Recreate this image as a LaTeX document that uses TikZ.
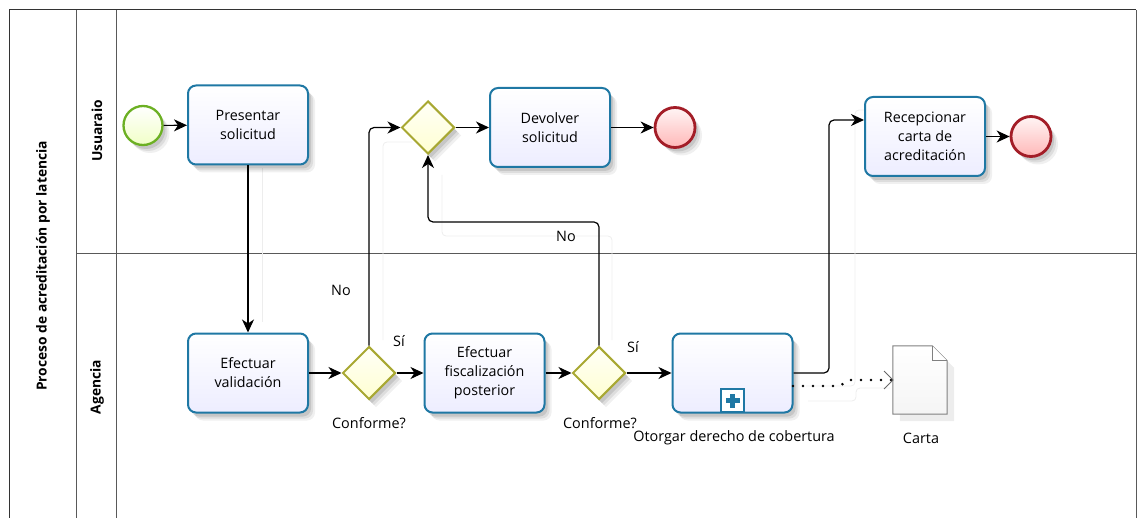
\documentclass[tikz,border=0pt]{standalone}
\usepackage{fontspec}
\setmainfont{Open Sans}
\usetikzlibrary{positioning,arrows.meta,shadows,calc,shapes.geometric}
\definecolor{taskblue}{HTML}{1F78A4}
\definecolor{gateolive}{HTML}{A8A832}
\definecolor{startgreen}{HTML}{6CB023}
\definecolor{endred}{HTML}{A31D27}
\tikzset{
  softshadow/.style={drop shadow={shadow xshift=7pt,shadow yshift=-8pt,opacity=0.06,fill=black},
    drop shadow={shadow xshift=5pt,shadow yshift=-6pt,opacity=0.08,fill=black},
    drop shadow={shadow xshift=3pt,shadow yshift=-4pt,opacity=0.1,fill=black}},
  taskbox/.style={draw=taskblue,line width=2pt,rounded corners=8pt,minimum width=120pt,minimum height=79pt,
    align=center,font=\fontsize{14.3}{19}\selectfont,inner sep=0pt,softshadow,top color=white,bottom color=blue!7},
  gatebox/.style={draw=gateolive,line width=2pt,diamond,minimum width=53pt,minimum height=53pt,inner sep=0pt,
    softshadow,top color=yellow!3,bottom color=yellow!18},
  startevt/.style={draw=startgreen,line width=2.3pt,circle,minimum size=39pt,inner sep=0pt,softshadow,top color=white,bottom color=green!25!yellow!22},
  endevt/.style={draw=endred,line width=2.8pt,circle,minimum size=40pt,inner sep=0pt,softshadow,top color=red!4,bottom color=red!28},
  flow/.style={line width=1.2pt,rounded corners=5pt,-{Stealth[length=13pt,width=12pt,inset=4pt]}},
  ghost/.style={line width=0.8pt,black!7,rounded corners=4pt},
  lane/.style={draw=black!65,line width=0.9pt},
  txt/.style={font=\fontsize{14.4}{17}\selectfont,inner sep=0pt},
  lanetxt/.style={font=\bfseries\fontsize{13.8}{16}\selectfont,rotate=90,inner sep=0pt}
}
\begin{document}
\begin{tikzpicture}[x=1pt,y=-1pt]
\useasboundingbox (0,0) rectangle (1139,518);
% pool and lanes
\draw[draw=black!80,line width=1pt] (9.5,518) -- (9.5,10) -- (1136,10);
\draw[lane] (1136,10) -- (1136,518);
\draw[lane] (76,10) -- (76,518);
\draw[lane] (116,10) -- (116,518);
\draw[lane] (76,253) -- (1136,253);
\node[lanetxt] (pool) at (43,266) {Proceso de acreditación por latencia};
\node[lanetxt] (usuario) at (97,131) {Usuaraio};
\node[lanetxt] (agencia) at (97,387) {Agencia};
% faint traces
\draw[ghost] (262,168) -- (262,322);
\draw[ghost] (383,340) |- (412,142);
\draw[ghost] (442,175) |- (612,236) -- (612,340);
\draw[ghost] (806,386) -- (855,386) |- (878,110);
\draw[ghost] (808,401) -- (856,401) -- (856,388) -- (890,388);
% events and tasks
\node[startevt] (start) at (143,125.5) {};
\node[taskbox] (presentar) at (248,125) {Presentar\\solicitud};
\node[gatebox] (gwtop) at (428,127.5) {};
\node[taskbox] (devolver) at (550,127.5) {Devolver\\solicitud};
\node[endevt] (endone) at (675,127.5) {};
\node[taskbox] (recepcionar) at (925,136.5) {Recepcionar\\carta de\\acreditación};
\node[endevt] (endtwo) at (1031,136.5) {};
\node[taskbox] (validacion) at (248,373) {Efectuar\\validación};
\node[gatebox] (gwone) at (369,373) {};
\node[taskbox] (fiscalizacion) at (484.5,373) {Efectuar\\fiscalización\\posterior};
\node[gatebox] (gwtwo) at (599,373) {};
\node[taskbox] (otorgar) at (732.5,373) {};
% subprocess marker
\node[draw=taskblue,fill=white,line width=1.8pt,minimum size=23pt,inner sep=0pt,anchor=south] (marker) at (732.5,413) {};
\node[fill=taskblue,minimum width=14pt,minimum height=4.5pt,inner sep=0pt] (plusa) at (marker) {};
\node[fill=taskblue,minimum width=4.5pt,minimum height=14pt,inner sep=0pt] (plusb) at (marker) {};
% document
\node[minimum width=54pt,minimum height=68pt,inner sep=0pt] (carta) at (920,380) {};
\draw[draw=black!50,line width=1pt,top color=white,bottom color=black!4,drop shadow={shadow xshift=7pt,shadow yshift=-7pt,opacity=0.07,fill=black}]
  (carta.north west) -- ($(carta.north east)+(-15,0)$) -- ($(carta.north east)+(0,15)$) -- (carta.south east) -- (carta.south west) -- cycle;
\draw[draw=black!50,line width=1pt,fill=white] ($(carta.north east)+(-15,0)$) -- ($(carta.north east)+(-15,15)$) -- ($(carta.north east)+(0,15)$);
% flows
\coordinate (intop) at (864,120);
\coordinate (outsub) at (793,386);
\coordinate (dotbend) at (840,386);
\coordinate (dotmid) at (848,380);
\coordinate (indoc) at (893,380);
\draw[flow] (start) -- (presentar);
\draw[flow] (presentar) -- (validacion);
\draw[flow] (validacion) -- (gwone);
\draw[flow] (gwone) -- (fiscalizacion);
\draw[flow] (fiscalizacion) -- (gwtwo);
\draw[flow] (gwtwo) -- (otorgar);
\draw[flow] (gwone.north) |- (gwtop.west);
\draw[flow] (gwtwo.north) |- (428,222) -- (gwtop.south);
\draw[flow] (gwtop) -- (devolver);
\draw[flow] (devolver) -- (endone);
\draw[flow] (otorgar.east) -- (829,373) -- (829,120) -- (intop);
\draw[flow] (recepcionar) -- (endtwo);
% association
\draw[line width=2.8pt,line cap=round,dash pattern=on 0pt off 10pt] (outsub) -- (dotbend) -- (dotmid) -- (indoc);
\draw[draw=black!60,line width=0.9pt] (884,371) -- (indoc) -- (884,389);
% labels
\node[txt] (lblno) at (341,290) {No};
\node[txt] (lblsi) at (399,341) {Sí};
\node[txt] (lblconf) at (369,423) {Conforme?};
\node[txt] (lblnob) at (566,236) {No};
\node[txt] (lblsib) at (633,347) {Sí};
\node[txt] (lblconfb) at (600,423) {Conforme?};
\node[txt] (lblotorgar) at (734,438) {Otorgar derecho de cobertura};
\node[txt] (lblcarta) at (921,438) {Carta};
\end{tikzpicture}
\end{document}
